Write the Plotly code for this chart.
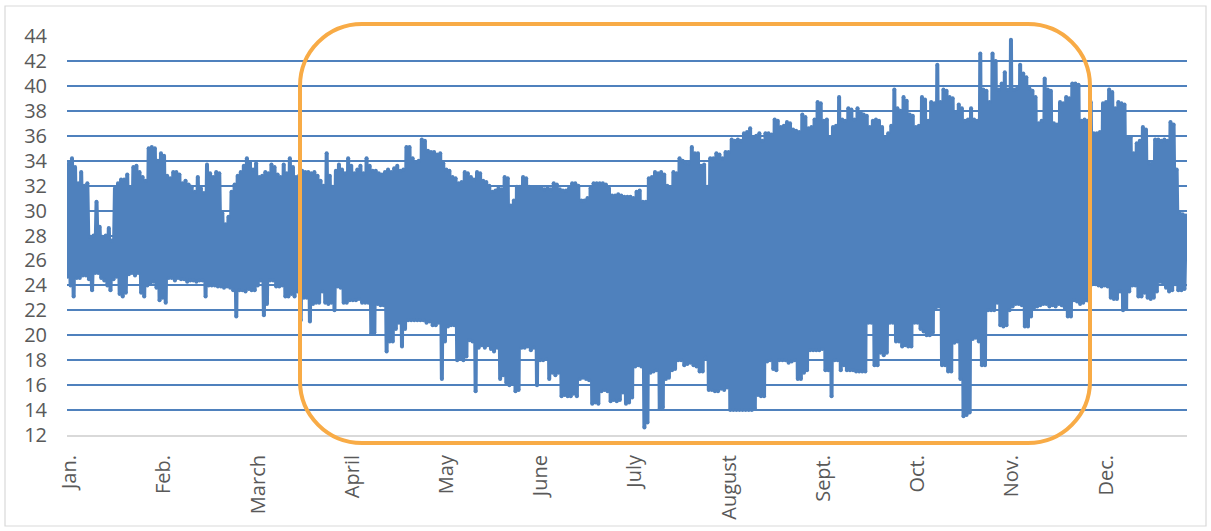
import plotly.graph_objects as go

# Month tick labels
month_labels = ["Jan.", "Feb.", "March", "April", "May", "June", "July",
                "August", "Sept.", "Oct.", "Nov.", "Dec."]

# Daily maximum values, day 0 .. 364
daily_high = [
    33.8, 34.2, 33.5, 32.2, 33.1, 32.0, 32.2, 27.9, 28.0, 30.7,
    28.7, 27.9, 28.0, 28.6, 27.6, 31.8, 32.2, 32.5, 32.5, 32.9,
    31.8, 33.5, 33.6, 33.1, 32.7, 32.4, 35.0, 35.1, 35.0, 34.0,
    34.6, 34.4, 32.8, 32.6, 33.1, 33.1, 32.9, 32.2, 32.4, 32.1,
    31.9, 31.5, 32.7, 31.8, 31.4, 33.7, 33.0, 32.7, 33.1, 33.0,
    29.8, 28.9, 29.5, 31.5, 32.1, 32.8, 33.1, 33.6, 34.2, 33.9,
    33.3, 33.8, 32.7, 32.8, 33.1, 33.0, 33.7, 33.5, 32.9, 32.7,
    33.7, 33.0, 34.2, 33.5, 32.7, 32.8, 33.2, 33.1, 33.1, 33.0,
    33.1, 32.8, 32.4, 32.0, 34.6, 32.8, 31.9, 33.2, 33.7, 33.3,
    33.0, 34.2, 33.6, 33.0, 33.3, 33.6, 33.0, 34.2, 33.6, 33.2,
    33.2, 33.0, 32.9, 33.1, 33.3, 33.1, 33.4, 33.6, 33.2, 33.3,
    35.1, 35.1, 34.2, 33.9, 34.0, 35.7, 35.6, 34.8, 34.7, 34.7,
    34.5, 34.6, 33.8, 33.3, 33.2, 32.7, 32.6, 32.2, 32.3, 33.1,
    33.0, 32.7, 32.5, 33.1, 33.0, 32.4, 32.3, 32.0, 31.5, 31.6,
    31.8, 31.7, 32.7, 32.6, 30.4, 30.8, 31.9, 31.9, 32.7, 32.6,
    31.9, 31.8, 31.8, 31.8, 31.8, 31.7, 31.8, 31.7, 32.2, 32.1,
    31.7, 31.6, 31.6, 31.8, 32.2, 32.2, 32.0, 30.8, 30.8, 31.0,
    31.8, 32.2, 32.2, 32.2, 32.2, 32.1, 31.8, 31.2, 31.2, 31.3,
    31.2, 31.1, 31.1, 31.1, 31.0, 31.5, 31.6, 30.7, 30.7, 32.6,
    32.7, 33.1, 33.0, 33.1, 32.9, 32.0, 31.8, 33.1, 33.0, 34.2,
    34.0, 33.8, 33.8, 35.1, 34.6, 34.6, 33.6, 33.7, 31.9, 34.2,
    34.2, 34.6, 34.5, 34.2, 34.7, 34.7, 35.7, 35.6, 35.7, 35.6,
    36.2, 36.3, 36.6, 35.9, 36.0, 36.2, 35.6, 36.2, 36.2, 36.1,
    37.3, 37.2, 36.7, 36.8, 37.1, 37.0, 36.5, 36.4, 36.3, 37.7,
    37.5, 36.6, 36.7, 37.3, 38.7, 38.6, 37.2, 37.3, 35.9, 36.7,
    36.8, 39.1, 37.3, 37.2, 38.2, 38.1, 37.3, 38.2, 37.9, 37.7,
    37.6, 36.7, 37.2, 37.3, 37.2, 36.7, 35.8, 36.2, 36.8, 39.7,
    38.2, 38.0, 39.1, 38.8, 37.7, 37.6, 36.7, 36.8, 39.1, 38.9,
    37.2, 38.7, 38.6, 41.7, 38.7, 39.7, 39.6, 39.1, 39.0, 37.9,
    38.5, 38.2, 37.2, 37.3, 38.2, 37.3, 37.2, 42.6, 39.7, 39.6,
    38.7, 42.6, 42.0, 39.7, 40.2, 41.1, 39.7, 43.7, 39.7, 39.8,
    41.7, 41.0, 40.7, 39.8, 39.6, 39.1, 37.0, 37.2, 40.6, 39.7,
    39.6, 37.0, 36.9, 38.7, 38.6, 39.1, 39.0, 40.2, 40.2, 40.1,
    37.2, 37.3, 37.2, 38.7, 36.2, 36.2, 36.3, 38.6, 38.7, 39.7,
    39.5, 38.2, 38.7, 38.6, 38.5, 35.9, 35.9, 34.6, 35.4, 35.6,
    36.7, 36.5, 33.8, 33.8, 35.7, 35.7, 35.6, 35.7, 35.6, 37.1,
    36.9, 33.3, 29.8, 29.7, 29.6,
]

# Daily minimum values, day 0 .. 364
daily_low = [
    24.7, 24.0, 23.1, 24.6, 24.6, 24.8, 24.8, 24.5, 23.6, 25.0,
    25.0, 24.6, 24.4, 24.0, 23.6, 24.5, 24.7, 23.3, 23.1, 23.4,
    24.9, 25.0, 24.8, 25.0, 23.4, 23.1, 24.0, 24.2, 24.3, 23.8,
    22.8, 23.0, 22.6, 24.6, 24.6, 24.4, 24.6, 24.5, 24.5, 24.3,
    24.4, 24.4, 24.3, 24.4, 24.4, 23.1, 24.0, 24.0, 24.0, 23.9,
    23.9, 23.8, 23.9, 23.8, 23.6, 21.5, 23.6, 23.6, 23.5, 23.7,
    23.6, 23.6, 24.0, 24.4, 21.6, 22.5, 24.4, 24.4, 23.9, 23.9,
    24.0, 23.1, 23.1, 23.3, 23.1, 23.5, 21.2, 23.0, 23.0, 21.1,
    22.5, 22.6, 22.6, 23.5, 22.6, 22.5, 22.6, 22.0, 23.9, 23.8,
    22.6, 22.6, 22.8, 22.8, 22.8, 22.9, 22.6, 22.6, 22.6, 20.1,
    20.2, 22.5, 22.4, 22.4, 18.7, 19.5, 19.5, 20.5, 21.0, 19.1,
    20.5, 21.2, 21.2, 21.2, 21.2, 21.2, 21.2, 21.0, 21.1, 20.8,
    20.8, 21.0, 16.5, 19.5, 20.7, 20.8, 20.8, 18.0, 18.2, 18.0,
    18.3, 19.6, 19.5, 15.5, 19.0, 19.2, 19.0, 19.2, 18.9, 18.7,
    19.0, 16.5, 16.8, 16.2, 16.0, 16.1, 15.5, 15.6, 19.0, 19.0,
    19.1, 18.8, 19.0, 16.0, 18.0, 18.0, 18.1, 16.5, 17.0, 16.8,
    17.0, 15.1, 15.2, 15.1, 15.1, 15.3, 15.1, 16.5, 16.6, 16.5,
    16.4, 14.5, 14.6, 14.5, 15.5, 15.6, 15.5, 14.7, 14.8, 14.7,
    14.8, 15.4, 14.5, 14.6, 15.0, 17.5, 17.6, 17.5, 12.6, 13.0,
    17.0, 17.1, 17.2, 14.1, 14.2, 16.5, 16.6, 17.2, 17.3, 18.0,
    18.0, 17.6, 17.7, 17.8, 17.6, 17.5, 17.1, 17.1, 18.2, 15.6,
    15.6, 15.5, 15.5, 15.7, 15.6, 15.8, 14.0, 14.0, 14.0, 14.0,
    14.0, 14.0, 14.0, 14.0, 14.1, 15.2, 15.1, 15.1, 17.9, 18.0,
    17.3, 17.2, 18.0, 18.0, 18.0, 17.8, 17.9, 18.0, 16.5, 16.5,
    17.0, 17.2, 18.8, 18.8, 18.8, 18.8, 18.9, 17.2, 17.2, 15.1,
    18.0, 18.0, 17.2, 17.6, 17.2, 17.2, 17.2, 17.1, 17.1, 17.1,
    17.1, 21.0, 21.0, 17.6, 17.6, 18.6, 18.4, 18.6, 21.0, 21.0,
    19.5, 19.5, 19.1, 19.2, 19.1, 19.1, 21.0, 21.0, 20.5, 20.3,
    20.0, 20.0, 20.2, 22.2, 22.3, 17.6, 17.6, 17.1, 17.1, 19.4,
    19.5, 16.5, 13.5, 13.6, 13.8, 19.7, 19.8, 19.5, 17.6, 17.6,
    22.0, 22.0, 22.0, 22.6, 20.8, 20.7, 20.8, 22.0, 22.3, 22.5,
    22.5, 22.4, 20.7, 20.7, 21.5, 22.2, 22.3, 22.4, 22.5, 22.5,
    22.3, 22.4, 22.3, 22.5, 22.4, 22.2, 21.5, 21.5, 22.8, 22.7,
    22.5, 22.6, 22.8, 22.7, 24.1, 24.1, 24.0, 23.9, 24.0, 23.9,
    23.0, 22.9, 22.9, 23.5, 22.0, 22.1, 23.5, 24.0, 24.0, 23.1,
    23.1, 23.4, 23.0, 22.9, 23.0, 23.5, 24.3, 24.2, 23.8, 23.5,
    23.6, 24.1, 23.6, 23.6, 23.7,
]

y_ticks = list(range(12, 45, 2))

# Build hourly-position series: each day a low then a high
xs, ys = [], []
for d, (lo, hi) in enumerate(zip(daily_low, daily_high)):
    xs += [d * 24 + 4, d * 24 + 15]
    ys += [lo, hi]

BLUE = "#4F81BD"
fig = go.Figure()
fig.add_trace(go.Scatter(
    x=xs, y=ys, mode="lines+markers",
    line=dict(color=BLUE, width=4),
    marker=dict(color=BLUE, size=4, line=dict(width=0)),
    hoverinfo="skip", showlegend=False,
))

W, H = 1211, 531
L, R, T, B = 67, 24, 36, 96
PW, PH = W - L - R, H - T - B


def p(x, y):
    return f"{(x - L) / PW:.5f},{(T + PH - y) / PH:.5f}"


# rounded orange rectangle (pixel geometry)
rl, rr, rt, rb, rad = 300, 1090, 24, 443, 62
k = 0.5523 * rad
path = (f"M{p(rl + rad, rt)} L{p(rr - rad, rt)} "
        f"C{p(rr - rad + k, rt)} {p(rr, rt + rad - k)} {p(rr, rt + rad)} "
        f"L{p(rr, rb - rad)} "
        f"C{p(rr, rb - rad + k)} {p(rr - rad + k, rb)} {p(rr - rad, rb)} "
        f"L{p(rl + rad, rb)} "
        f"C{p(rl + rad - k, rb)} {p(rl, rb - rad + k)} {p(rl, rb - rad)} "
        f"L{p(rl, rt + rad)} "
        f"C{p(rl, rt + rad - k)} {p(rl + rad - k, rt)} {p(rl + rad, rt)} Z")

border = f"M{p(5, 6)} L{p(1206, 6)} L{p(1206, 526)} L{p(5, 526)} Z"

fig.update_layout(
    width=W, height=H,
    margin=dict(l=L, r=R, t=T, b=B),
    paper_bgcolor="white", plot_bgcolor="white",
    font=dict(family="Open Sans", size=20, color="#595959"),
    showlegend=False,
    shapes=[
        dict(type="path", path=border, xref="paper", yref="paper",
             line=dict(color="#D9D9D9", width=1.2), layer="below"),
        dict(type="path", path=path, xref="paper", yref="paper",
             line=dict(color="#F8AB46", width=4), layer="above"),
    ],
)

fig.update_xaxes(
    range=[0, 8760],
    tickmode="array",
    tickvals=[20 + 737 * i for i in range(12)],
    ticktext=month_labels,
    tickangle=-90,
    showgrid=False, zeroline=False,
    showline=True, linecolor="#D9D9D9", linewidth=2,
    ticks="", ticklabelstandoff=10,
)
fig.update_yaxes(
    range=[12, 44],
    tickmode="array", tickvals=y_ticks,
    showgrid=True, gridcolor=BLUE, gridwidth=1.5,
    zeroline=False, showline=False, ticks="",
    ticklabelstandoff=19,
)

fig.write_html(
    "out.html",
    config={"displayModeBar": False},
    post_script="document.body.style.margin='0px';document.body.style.overflow='hidden';",
)
